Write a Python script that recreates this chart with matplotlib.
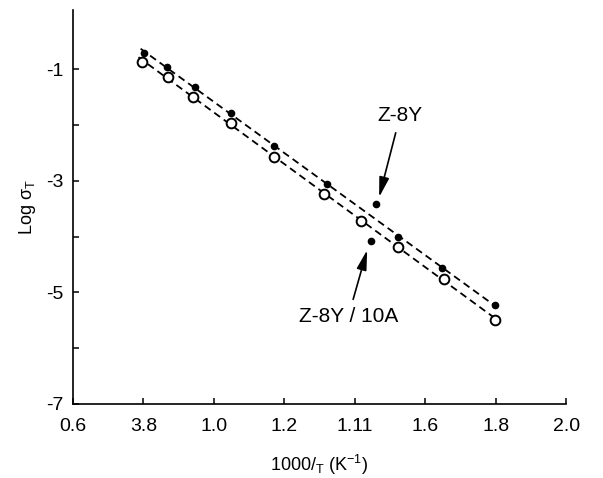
import numpy as np
import matplotlib
matplotlib.use("Agg")
import matplotlib.pyplot as plt

# -----------------------------
# Data
# -----------------------------
# Z-8Y (filled dots)
x_z8y = [0.802, 0.867, 0.947, 1.049, 1.171, 1.322, 1.523, 1.648, 1.799]
y_z8y = [-0.713, -0.964, -1.322, -1.788, -2.379, -3.060, -4.009, -4.564, -5.227]

# Z-8Y/10A (open circles)
x_z8y10a = [0.796, 0.870, 0.941, 1.049, 1.171, 1.313, 1.418, 1.523, 1.654, 1.799]
y_z8y10a = [-0.875, -1.143, -1.502, -1.967, -2.576, -3.239, -3.722, -4.188, -4.761, -5.496]

# two stray filled points pointed at by the labels
x_extra = [1.461, 1.447]
y_extra = [-3.418, -4.081]

xtick_vals = [0.6, 0.8, 1.0, 1.2, 1.4, 1.6, 1.8, 2.0]
xtick_labels = ["0.6", "3.8", "1.0", "1.2", "1.11", "1.6", "1.8", "2.0"]
ytick_vals = [-1, -3, -5, -7]

# -----------------------------
# Style
# -----------------------------
plt.rcParams["font.family"] = ["Liberation Sans", "DejaVu Sans"]
plt.rcParams["mathtext.fontset"] = "custom"
plt.rcParams["mathtext.rm"] = "Liberation Sans"
plt.rcParams["mathtext.it"] = "Liberation Sans:italic"
plt.rcParams["axes.unicode_minus"] = False

fig = plt.figure(figsize=(6.03, 4.78), dpi=100, facecolor="white")
ax = fig.add_axes([0.121, 0.155, 0.818, 0.824])

# dashed fit lines
for xs, ys in [(x_z8y, y_z8y), (x_z8y10a, y_z8y10a)]:
    k, b = np.polyfit(xs, ys, 1)
    xx = np.array([min(xs) - 0.01, max(xs)])
    ax.plot(xx, k * xx + b, color="black", lw=1.3, dashes=(4, 2.5), zorder=1)

ax.plot(x_z8y, y_z8y, "o", ms=4.5, color="black", zorder=3)
ax.plot(x_extra, y_extra, "o", ms=4.5, color="black", zorder=3)
ax.plot(x_z8y10a, y_z8y10a, "o", ms=7, mfc="white", mec="black", mew=1.4, zorder=2)

# labels with arrows
arrow = dict(arrowstyle="-|>,head_length=0.8,head_width=0.2", color="black", lw=1.2,
             shrinkA=4, shrinkB=0)
ax.annotate("Z-8Y", xy=(1.469, -3.293), xytext=(1.529, -1.824),
            ha="center", va="center", fontsize=15, arrowprops=arrow)
ax.annotate("Z-8Y / 10A", xy=(1.435, -4.242), xytext=(1.381, -5.442),
            ha="center", va="center", fontsize=15, arrowprops=arrow)

# axes
ax.set_xlim(0.6, 2.0)
ax.set_ylim(-7, 0.06)
ax.set_xticks(xtick_vals)
ax.set_xticklabels(xtick_labels)
ax.set_yticks(ytick_vals)
ax.set_yticks([-2, -4, -6], minor=True)
ax.tick_params(axis="both", which="both", direction="in", length=4, width=1.1,
               labelsize=14)
ax.tick_params(axis="x", pad=10)
ax.tick_params(axis="y", pad=7)

ax.set_xlabel(r"1000/$_\mathregular{T}$ (K$^\mathregular{-1}$)", fontsize=13, labelpad=13)
ax.set_ylabel(r"Log $\mathregular{\sigma_T}$", fontsize=13, labelpad=6)

for s in ["top", "right"]:
    ax.spines[s].set_visible(False)
for s in ["left", "bottom"]:
    ax.spines[s].set_linewidth(1.2)

plt.savefig("out.png", dpi=100, facecolor="white")
